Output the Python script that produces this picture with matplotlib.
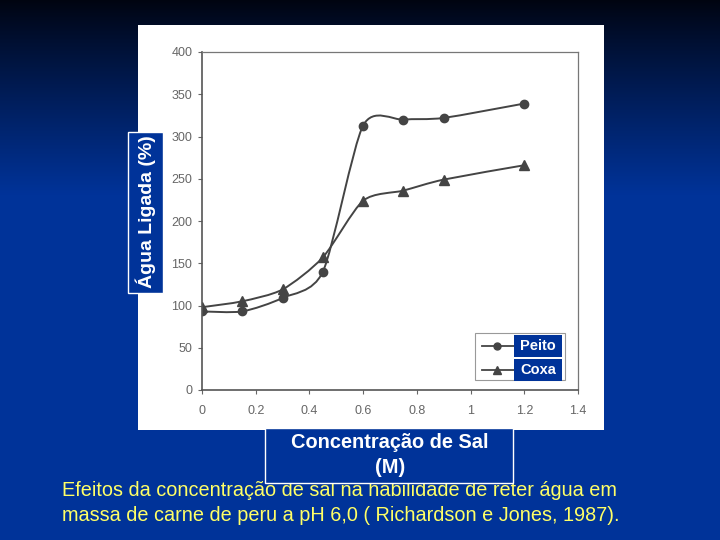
import numpy as np
import matplotlib
matplotlib.use("Agg")
import matplotlib.pyplot as plt
from matplotlib.path import Path
from matplotlib.patches import PathPatch, Rectangle
from matplotlib.lines import Line2D

# ---- data ----
concentracao = [0.0, 0.15, 0.30, 0.45, 0.60, 0.75, 0.90, 1.20]
peito = [93, 93, 109, 140, 313, 320, 322, 339]
coxa = [98, 105, 119, 157, 224, 236, 249, 266]
xticks = [0, 0.2, 0.4, 0.6, 0.8, 1.0, 1.2, 1.4]
xtick_labels = ["0", "0.2", "0.4", "0.6", "0.8", "1", "1.2", "1.4"]
yticks = [0, 50, 100, 150, 200, 250, 300, 350, 400]
series_names = ["Peito", "Coxa"]
ylabel = "Água Ligada (%)"
xlabel = "Concentração de Sal\n(M)"
caption = ("Efeitos da concentração de sal na habilidade de reter água em\n"
           "massa de carne de peru a pH 6,0 ( Richardson e Jones, 1987).")

plt.rcParams['font.family'] = ['Liberation Sans', 'DejaVu Sans']

W, H = 720, 540
fig = plt.figure(figsize=(7.2, 5.4), dpi=100)

# background gradient
bg = fig.add_axes([0, 0, 1, 1])
bg.set_axis_off()
t = np.linspace(0, 1, 540)[:, None]
top = np.array([0x00, 0x04, 0x10]) / 255
blue = np.array([0x00, 0x33, 0x99]) / 255
f = np.clip(t / 0.36, 0, 1) ** 0.9
grad = top[None, None, :] * (1 - f[..., None]) + blue[None, None, :] * f[..., None]
grad = np.repeat(grad, 2, axis=1)
bg.imshow(grad, aspect='auto', extent=[0, 1, 0, 1], origin='upper')
bg.set_xlim(0, 1); bg.set_ylim(0, 1)

def fx(px):
    return px / W

def fy(py):
    return 1 - py / H

# white panel
bg.add_patch(Rectangle((fx(138), fy(430)), fx(604) - fx(138), fy(25) - fy(430),
                       facecolor='white', edgecolor='none', zorder=1))

# chart axes
x0, x1 = 202, 578
y0, y1 = 390, 52
ax = fig.add_axes([fx(x0), fy(y0), fx(x1) - fx(x0), fy(y1) - fy(y0)])
ax.set_facecolor('white')
ax.set_xlim(0, 1.4)
ax.set_ylim(0, 400)
gray = '#555555'
for s in ax.spines.values():
    s.set_color('#777777')
    s.set_linewidth(0.9)
ax.spines['left'].set_color(gray)
ax.spines['bottom'].set_color(gray)
ax.spines['left'].set_linewidth(1.2)
ax.spines['bottom'].set_linewidth(1.2)
ax.set_xticks(xticks)
ax.set_xticklabels(xtick_labels)
ax.set_yticks(yticks)
ax.tick_params(axis='both', colors='#666666', labelsize=9, direction='out',
               length=3, width=0.8, labelcolor='#666666')
ax.tick_params(axis='x', pad=8)
ax.tick_params(axis='y', pad=4)


def smooth_path(xs, ys, k=0.75):
    xs = np.asarray(xs, float); ys = np.asarray(ys, float)
    n = len(xs)
    verts = [(xs[0], ys[0])]
    codes = [Path.MOVETO]
    for i in range(n - 1):
        p0 = (xs[max(i - 1, 0)], ys[max(i - 1, 0)])
        p1 = (xs[i], ys[i])
        p2 = (xs[i + 1], ys[i + 1])
        p3 = (xs[min(i + 2, n - 1)], ys[min(i + 2, n - 1)])
        c1 = (p1[0] + k * (p2[0] - p0[0]) / 6, p1[1] + k * (p2[1] - p0[1]) / 6)
        c2 = (p2[0] - k * (p3[0] - p1[0]) / 6, p2[1] - k * (p3[1] - p1[1]) / 6)
        verts += [c1, c2, p2]
        codes += [Path.CURVE4] * 3
    return Path(verts, codes)

lc = '#444444'
for ys in (peito, coxa):
    ax.add_patch(PathPatch(smooth_path(concentracao, ys), facecolor='none',
                           edgecolor=lc, linewidth=1.4))
ax.plot(concentracao, peito, linestyle='none', marker='o', markersize=6,
        color=lc)
ax.plot(concentracao, coxa, linestyle='none', marker='^', markersize=7,
        color=lc)

# overlay for labels and legend
ov = fig.add_axes([0, 0, 1, 1])
ov.set_axis_off()
ov.set_xlim(0, 1); ov.set_ylim(0, 1)
ov.patch.set_alpha(0)

# legend (manual)
lx0, ly0, lx1, ly1 = 475, 333, 565, 380
ov.add_patch(Rectangle((fx(lx0), fy(ly1)), fx(lx1) - fx(lx0), fy(ly0) - fy(ly1),
                       facecolor='white', edgecolor='#999999', linewidth=0.8,
                       zorder=5))
for i, (name, mk, ms) in enumerate(zip(series_names, ['o', '^'], [5, 6])):
    yy = 346 + i * 24
    ov.add_line(Line2D([fx(482), fx(514)], [fy(yy), fy(yy)], color=lc,
                       linewidth=1.3, zorder=6))
    ov.add_line(Line2D([fx(497)], [fy(yy)], color=lc, marker=mk,
                       markersize=ms, zorder=7))
    ov.add_patch(Rectangle((fx(514), fy(yy + 11)), fx(562) - fx(514),
                           fy(yy - 11) - fy(yy + 11), facecolor='#003399',
                           edgecolor='none', zorder=6))
    ov.text(fx(538), fy(yy), name, color='white', fontsize=10.5,
            fontweight='bold', ha='center', va='center', zorder=8)

# y label box
ov.add_patch(Rectangle((fx(128), fy(293)), fx(163) - fx(128), fy(132) - fy(293),
                       facecolor='#003399', edgecolor='white', linewidth=1,
                       zorder=5))
ov.text(fx(145.5), fy(212), ylabel, rotation=90, color='white', fontsize=14,
        fontweight='bold', ha='center', va='center', zorder=6)

# x label box
ov.add_patch(Rectangle((fx(265), fy(483)), fx(513) - fx(265), fy(428) - fy(483),
                       facecolor='#003399', edgecolor='white', linewidth=1,
                       zorder=5))
ov.text(fx(390), fy(455), xlabel, color='white', fontsize=14.4,
        fontweight='bold', ha='center', va='center', linespacing=1.4,
        zorder=6)

# caption
ov.text(fx(62), fy(503), caption, color='#FFFF66', fontsize=14.3,
        ha='left', va='center', linespacing=1.36, zorder=4)

fig.savefig('out.png', dpi=100)
